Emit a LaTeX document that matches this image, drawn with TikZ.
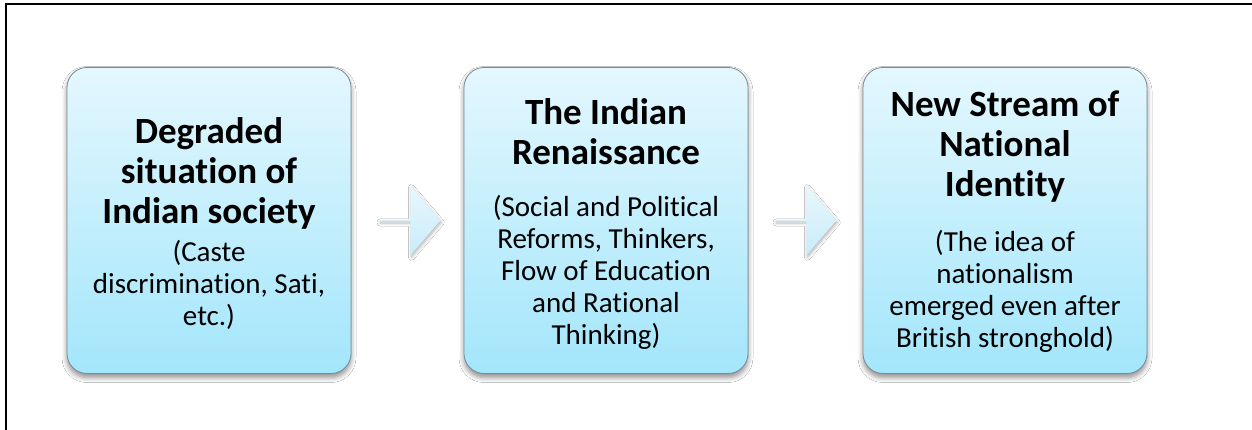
\documentclass[tikz,border=0pt]{standalone}
\usepackage{fontspec}
\setmainfont[Ligatures=NoCommon]{Carlito}
\usetikzlibrary{shapes.arrows,shadows.blur,calc}
\definecolor{boxtop}{HTML}{E4F7FE}
\definecolor{boxbot}{HTML}{A3E6FB}
\definecolor{boxline}{HTML}{7A8A90}
\definecolor{arrtop}{HTML}{E8F7FD}
\definecolor{arrbot}{HTML}{C8ECFA}
\tikzset{
  stagebox/.style={rectangle, rounded corners=20pt, minimum width=284pt, minimum height=306pt,
    inner sep=0pt, draw=boxline, line width=0.8pt, top color=boxtop, bottom color=boxbot,
    blur shadow={shadow xshift=0pt, shadow yshift=-4pt, shadow blur radius=5pt, shadow blur steps=6, shadow opacity=45}},
  titletext/.style={align=center, inner sep=0pt, anchor=north,
    font=\fontsize{37pt}{40pt}\selectfont\bfseries},
  subtext/.style={align=center, inner sep=0pt, anchor=north,
    font=\fontsize{29pt}{32pt}\selectfont},
  flowarrow/.style={single arrow, minimum height=61pt, minimum width=70pt, single arrow head extend=13pt,
    single arrow tip angle=99, inner sep=0pt, draw=none, top color=arrtop, bottom color=arrbot,
    blur shadow={shadow xshift=1pt, shadow yshift=-2pt, shadow blur radius=3pt, shadow blur steps=5, shadow opacity=30}},
  frameline/.style={draw=black, line width=2pt}
}
\begin{document}
\begin{tikzpicture}[x=1pt,y=1pt]
\useasboundingbox (0,0) rectangle (1252,429);
\clip (0,0) rectangle (1252,429);
\fill[white] (0,0) rectangle (1252,429);
\draw[frameline] (6,-20) rectangle (1280,424.5);
\node[stagebox] (b1) at (209,208.5) {};
\node[stagebox] (b2) at (606,208.5) {};
\node[stagebox] (b3) at (1005,208.5) {};
\node[titletext] (t1) at (209,312) {Degraded\\ situation of\\ Indian society};
\node[subtext] (s1) at (209,189) {(Caste\\ discrimination, Sati,\\ etc.)};
\node[titletext] (t2) at (606,331) {The Indian\\ Renaissance};
\node[subtext] (s2) at (606,234) {(Social and Political\\ Reforms, Thinkers,\\ Flow of Education\\ and Rational\\ Thinking)};
\node[titletext] (t3) at (1005,338) {New Stream of\\ National\\ Identity};
\node[subtext] (s3) at (1005,199) {(The idea of\\ nationalism\\ emerged even after\\ British stronghold)};
\node[flowarrow] (a1) at ($($(b1.east)!0.5!(b2.west)$)+(2,0)$) {};
\node[flowarrow] (a2) at ($($(b2.east)!0.5!(b3.west)$)+(0,0)$) {};
\end{tikzpicture}
\end{document}
